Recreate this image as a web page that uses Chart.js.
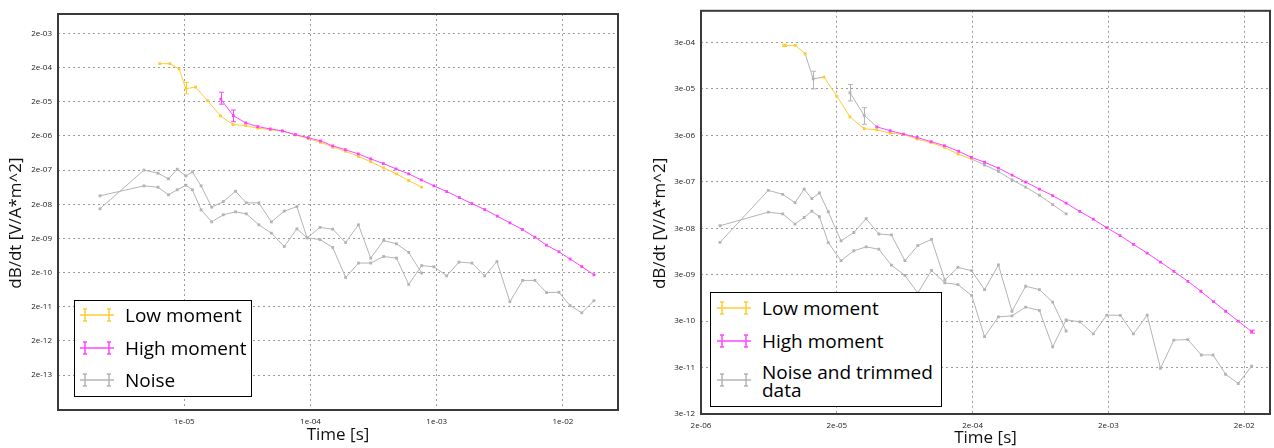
<!DOCTYPE html>
<html>
<head>
<meta charset="utf-8">
<script src="https://cdn.jsdelivr.net/npm/chart.js@4.4.1/dist/chart.umd.min.js"></script>
<style>
  body { margin: 0; background: #fff; width: 1274px; height: 448px; position: relative; overflow: hidden; font-family: "Open Sans", sans-serif; }
  canvas { position: absolute; top: 0; }
  .legend { position: absolute; background: #fff; border: 1.5px solid #000; box-sizing: border-box; }
  .row { position: absolute; left: 0; right: 0; }
  .row svg { position: absolute; }
  .row span { position: absolute; font-size: 19px; line-height: 18px; color: #000; white-space: normal; }
</style>
</head>
<body>
<canvas id="left" width="640" height="448" style="left:0"></canvas>
<canvas id="right" width="634" height="448" style="left:640px"></canvas>
<div id="legendLeft" class="legend" style="left:74px; top:300px; width:178px; height:97px"></div>
<div id="legendRight" class="legend" style="left:710px; top:292px; width:232px; height:115px"></div>
<script>
// colours
const yellow = "#FFCC33";
const magenta = "#FF44FF";
const grey = "#B4B4B4";

// ---------- left panel ----------
const leftXTicks = [1e-5, 1e-4, 1e-3, 1e-2];
const leftXLabels = ["1e-05", "1e-04", "1e-03", "1e-02"];
const leftYTicks = [2e-3, 2e-4, 2e-5, 2e-6, 2e-7, 2e-8, 2e-9, 2e-10, 2e-11, 2e-12, 2e-13];
const leftYLabels = ["2e-03", "2e-04", "2e-05", "2e-06", "2e-07", "2e-08", "2e-09", "2e-10", "2e-11", "2e-12", "2e-13"];

const leftLowT = [6.4e-6, 7.7e-6, 9.1e-6, 1.03e-5, 1.23e-5, 1.53e-5, 1.94e-5, 2.43e-5, 3.07e-5, 3.82e-5, 4.8e-5, 6.0e-5,
  7.6e-5, 9.6e-5, 1.2e-4, 1.5e-4, 1.9e-4, 2.4e-4, 3.0e-4, 3.8e-4, 4.8e-4, 6.0e-4, 7.6e-4];
const leftLowV = [2.6e-4, 2.6e-4, 1.82e-4, 4.8e-5, 5.4e-5, 2.15e-5, 7.7e-6, 4.3e-6, 4.0e-6, 3.36e-6, 3.05e-6, 2.8e-6,
  2.14e-6, 1.67e-6, 1.3e-6, 9.4e-7, 7.1e-7, 5.0e-7, 3.5e-7, 2.32e-7, 1.55e-7, 9.9e-8, 6.3e-8];
const leftLowErrIdx = [3];
const leftLowErrLo = [3.4e-5];
const leftLowErrHi = [7.4e-5];

const leftHighT = [1.95e-5, 2.45e-5, 3.07e-5, 3.82e-5, 4.8e-5, 6.0e-5, 7.6e-5, 9.6e-5, 1.2e-4, 1.5e-4, 1.89e-4, 2.39e-4,
  3.0e-4, 3.78e-4, 4.76e-4, 6.0e-4, 7.55e-4, 9.5e-4, 1.2e-3, 1.51e-3, 1.9e-3, 2.4e-3, 3.02e-3, 3.8e-3, 4.77e-3, 6.0e-3,
  7.4e-3, 9.3e-3, 1.14e-2, 1.41e-2, 1.76e-2];
const leftHighV = [2.37e-5, 7.8e-6, 4.8e-6, 3.74e-6, 3.2e-6, 2.8e-6, 2.18e-6, 1.78e-6, 1.43e-6, 1.02e-6, 7.9e-7, 5.96e-7,
  4.25e-7, 3.1e-7, 2.17e-7, 1.55e-7, 1.03e-7, 6.9e-8, 4.7e-8, 3.14e-8, 2.09e-8, 1.4e-8, 8.97e-9, 5.7e-9, 3.64e-9, 2.18e-9,
  1.27e-9, 8.1e-10, 4.97e-10, 3.0e-10, 1.72e-10];
const leftHighErrIdx = [0, 1];
const leftHighErrLo = [1.7e-5, 5.2e-6];
const leftHighErrHi = [3.8e-5, 1.15e-5];

const leftNoiseT = [2.15e-6, 4.8e-6, 6.2e-6, 7.5e-6, 8.8e-6, 1.03e-5, 1.16e-5, 1.36e-5, 1.65e-5, 2.04e-5, 2.55e-5, 3.1e-5,
  3.9e-5, 4.9e-5, 6.2e-5, 7.8e-5, 9.4e-5, 1.19e-4, 1.5e-4, 1.9e-4, 2.4e-4, 3.0e-4, 3.8e-4, 4.8e-4, 6.0e-4, 7.6e-4,
  9.5e-4, 1.2e-3, 1.5e-3, 1.9e-3, 2.4e-3, 3.0e-3, 3.8e-3, 4.8e-3, 6.0e-3, 7.4e-3, 9.3e-3, 1.14e-2, 1.41e-2, 1.76e-2];
// noise of the low moment (stops with it) and of the high moment
const leftNoiseLowV = [1.47e-8, 2.0e-7, 1.62e-7, 1.11e-7, 2.12e-7, 1.35e-7, 1.77e-7, 6.9e-8, 1.64e-8, 2.4e-8, 4.8e-8, 2.2e-8,
  2.2e-8, 6.1e-9, 1.26e-8, 1.71e-8, 2.08e-9, 4.2e-9, 3.73e-9, 1.52e-9, 5.0e-9, 5.3e-10, 1.74e-9, 1.39e-9, 7.8e-10, 1.93e-10];
const leftNoiseHighV = [3.52e-8, 6.9e-8, 6.3e-8, 3.77e-8, 5.3e-8, 7.2e-8, 5.3e-8, 1.37e-8, 6.1e-9, 9.8e-9, 1.2e-8, 1.05e-8,
  5.0e-9, 2.85e-9, 1.16e-9, 3.8e-9, 2.08e-9, 1.85e-9, 1.09e-9, 1.44e-10, 3.8e-10, 3.8e-10, 5.9e-10, 5.3e-10, 9.0e-11, 3.2e-10,
  2.96e-10, 1.6e-10, 4.05e-10, 3.8e-10, 1.6e-10, 4.2e-10, 2.8e-11, 1.18e-10, 1.18e-10, 5.2e-11, 5.3e-11, 2.15e-11, 1.33e-11, 3.0e-11];

// ---------- right panel ----------
const rightXTicks = [2e-6, 2e-5, 2e-4, 2e-3, 2e-2];
const rightXLabels = ["2e-06", "2e-05", "2e-04", "2e-03", "2e-02"];
const rightYTicks = [3e-4, 3e-5, 3e-6, 3e-7, 3e-8, 3e-9, 3e-10, 3e-11, 3e-12];
const rightYLabels = ["3e-04", "3e-05", "3e-06", "3e-07", "3e-08", "3e-09", "3e-10", "3e-11", "3e-12"];

const rightLowT = [8.2e-6, 9.9e-6, 1.17e-5, 1.34e-5, 1.61e-5, 2.0e-5, 2.5e-5, 3.18e-5, 3.94e-5, 4.94e-5, 6.2e-5, 7.8e-5,
  9.9e-5, 1.24e-4, 1.56e-4, 1.96e-4, 2.45e-4, 3.1e-4, 3.9e-4, 4.92e-4, 6.21e-4, 7.78e-4, 9.77e-4];
const rightLowV = [2.59e-4, 2.59e-4, 1.71e-4, 4.93e-5, 5.36e-5, 2.1e-5, 7.5e-6, 4.15e-6, 3.96e-6, 3.34e-6, 3.14e-6, 2.49e-6,
  2.09e-6, 1.65e-6, 1.19e-6, 9.3e-7, 6.9e-7, 5.0e-7, 3.3e-7, 2.3e-7, 1.54e-7, 9.7e-8, 6.1e-8];
const rightLowTrim = [0, 0, 0, 1, 0, 0, 0, 0, 0, 0, 0, 0, 0, 0, 0, 0, 1, 1, 1, 1, 1, 1, 1];
const rightLowErrIdx = [0, 3];
const rightLowErrLo = [2.45e-4, 3.0e-5];
const rightLowErrHi = [2.75e-4, 7.2e-5];

const rightHighT = [2.5e-5, 3.18e-5, 3.94e-5, 4.94e-5, 6.2e-5, 7.8e-5, 9.9e-5, 1.24e-4, 1.58e-4, 1.96e-4, 2.45e-4, 3.1e-4,
  3.91e-4, 4.92e-4, 6.21e-4, 7.78e-4, 9.77e-4, 1.23e-3, 1.55e-3, 1.94e-3, 2.44e-3, 3.06e-3, 3.86e-3, 4.84e-3, 6.07e-3,
  7.7e-3, 9.6e-3, 1.19e-2, 1.46e-2, 1.81e-2, 2.27e-2];
const rightHighV = [2.48e-5, 8.1e-6, 4.58e-6, 3.76e-6, 3.18e-6, 2.7e-6, 2.19e-6, 1.8e-6, 1.36e-6, 1.01e-6, 7.9e-7, 5.9e-7,
  4.17e-7, 2.96e-7, 2.09e-7, 1.51e-7, 1.04e-7, 6.9e-8, 4.7e-8, 3.08e-8, 2.08e-8, 1.35e-8, 8.7e-9, 5.6e-9, 3.54e-9,
  2.16e-9, 1.32e-9, 7.9e-10, 4.9e-10, 3.0e-10, 1.78e-10];
const rightHighTrim = [1, 1, 0, 0, 0, 0, 0, 0, 0, 0, 0, 0, 0, 0, 0, 0, 0, 0, 0, 0, 0, 0, 0, 0, 0, 0, 0, 0, 0, 0, 0];
const rightHighErrIdx = [0, 1, 30];
const rightHighErrLo = [1.65e-5, 5.2e-6, 1.65e-10];
const rightHighErrHi = [3.72e-5, 1.18e-5, 1.92e-10];

const rightNoiseT = [2.76e-6, 6.26e-6, 8.0e-6, 9.85e-6, 1.15e-5, 1.31e-5, 1.49e-5, 1.73e-5, 2.15e-5, 2.67e-5, 3.29e-5,
  4.08e-5, 5.05e-5, 6.35e-5, 7.9e-5, 9.97e-5, 1.25e-4, 1.56e-4, 1.97e-4, 2.45e-4, 3.1e-4, 3.9e-4, 4.92e-4, 6.21e-4,
  7.78e-4, 9.77e-4, 1.23e-3, 1.55e-3, 1.95e-3, 2.45e-3, 3.06e-3, 3.86e-3, 4.84e-3, 6.07e-3, 7.7e-3, 9.67e-3, 1.18e-2,
  1.46e-2, 1.81e-2, 2.27e-2];
const rightNoiseLowV = [1.49e-8, 1.96e-7, 1.61e-7, 1.07e-7, 2.07e-7, 1.3e-7, 1.72e-7, 6.8e-8, 1.6e-8, 2.43e-8, 4.8e-8,
  2.25e-8, 2.15e-8, 6.0e-9, 1.27e-8, 1.73e-8, 2.3e-9, 4.3e-9, 3.65e-9, 1.43e-9, 4.85e-9, 4.9e-10, 1.69e-9, 1.43e-9,
  7.7e-10, 1.84e-10];
const rightNoiseHighV = [3.39e-8, 6.65e-8, 6.1e-8, 3.69e-8, 5.1e-8, 7.0e-8, 5.3e-8, 1.47e-8, 6.0e-9, 9.8e-9, 1.19e-8,
  1.06e-8, 4.8e-9, 2.9e-9, 1.21e-9, 3.7e-9, 2.0e-9, 1.83e-9, 1.07e-9, 1.39e-10, 3.7e-10, 3.9e-10, 6.0e-10, 5.1e-10,
  8.4e-11, 3.2e-10, 2.9e-10, 1.6e-10, 4.05e-10, 4.0e-10, 1.59e-10, 4.05e-10, 2.9e-11, 1.17e-10, 1.2e-10, 5.6e-11,
  5.6e-11, 2.15e-11, 1.36e-11, 3.2e-11];

const leftLegend = ["Low moment", "High moment", "Noise"];
const rightLegend = ["Low moment", "High moment", "Noise and trimmed data"];
const legendColors = [yellow, magenta, grey];

function pts(t, v) {
  return v.map(function (val, i) { return { x: t[i], y: val }; });
}

function series(t, v, color, opts) {
  opts = opts || {};
  const trim = opts.trim;
  const pointColor = trim ? trim.map(function (f) { return f ? grey : color; }) : color;
  return {
    data: pts(t, v),
    showLine: true,
    borderColor: color,
    backgroundColor: pointColor,
    pointBackgroundColor: pointColor,
    pointBorderColor: pointColor,
    borderWidth: 1,
    pointStyle: "rect",
    pointRadius: 2,
    pointBorderWidth: 0,
    order: opts.order || 0,
    segment: trim ? {
      borderColor: function (ctx) {
        return trim[ctx.p0DataIndex] || trim[ctx.p1DataIndex] ? grey : undefined;
      },
    } : undefined,
    errIdx: opts.errIdx,
    errLo: opts.errLo,
    errHi: opts.errHi,
    errColors: opts.errIdx ? opts.errIdx.map(function (i) { return trim && trim[i] ? grey : color; }) : null,
  };
}

// error bars drawn through the chart scales
const errorBars = {
  id: "errorBars",
  afterDatasetsDraw: function (chart) {
    const ctx = chart.ctx;
    const xs = chart.scales.x;
    const ys = chart.scales.y;
    chart.data.datasets.forEach(function (ds) {
      if (!ds.errIdx) return;
      ctx.save();
      ctx.lineWidth = 1;
      ds.errIdx.forEach(function (i, k) {
        const px = Math.round(xs.getPixelForValue(ds.data[i].x)) + 0.5;
        const y1 = ys.getPixelForValue(ds.errLo[k]);
        const y2 = ys.getPixelForValue(ds.errHi[k]);
        ctx.strokeStyle = ds.errColors[k];
        ctx.beginPath();
        ctx.moveTo(px, y1); ctx.lineTo(px, y2);
        ctx.moveTo(px - 2.5, y1); ctx.lineTo(px + 2.5, y1);
        ctx.moveTo(px - 2.5, y2); ctx.lineTo(px + 2.5, y2);
        ctx.stroke();
      });
      ctx.restore();
    });
  },
};

// dark frame round the plot area
const frame = {
  id: "frame",
  afterDraw: function (chart) {
    const a = chart.chartArea;
    const ctx = chart.ctx;
    ctx.save();
    ctx.strokeStyle = "#3a3a3a";
    ctx.lineWidth = 2;
    ctx.strokeRect(a.left, a.top, a.right - a.left, a.bottom - a.top);
    ctx.restore();
  },
};

function axis(kind, min, max, ticks, labels, title, fit) {
  const horiz = kind === "x";
  return {
    type: "logarithmic",
    position: horiz ? "bottom" : "left",
    min: min,
    max: max,
    bounds: "data",
    afterBuildTicks: function (scale) {
      scale.ticks = ticks.map(function (v) { return { value: v }; });
    },
    afterFit: function (scale) {
      if (horiz) scale.height = fit.size; else scale.width = fit.size;
    },
    ticks: {
      autoSkip: false,
      maxRotation: 0,
      padding: fit.tickPad,
      color: "#222",
      font: { family: "Open Sans", size: 8 },
      callback: function (value, index) { return labels[index]; },
    },
    grid: { color: "#9c9c9c", lineWidth: 1, drawTicks: false },
    border: { display: false, dash: [2, 3] },
    title: {
      display: true,
      text: title,
      color: "#111",
      font: { family: "Open Sans", size: 17, lineHeight: 1 },
      padding: horiz ? { top: 0, bottom: fit.titlePad } : { top: fit.titlePad, bottom: 0 },
    },
  };
}

function makeChart(id, datasets, xs, ys, padding) {
  return new Chart(document.getElementById(id), {
    type: "scatter",
    data: { datasets: datasets },
    options: {
      responsive: false,
      animation: false,
      layout: { padding: padding },
      plugins: { legend: { display: false }, tooltip: { enabled: false } },
      scales: { x: xs, y: ys },
    },
    plugins: [errorBars, frame],
  });
}

makeChart("left", [
  series(leftHighT, leftHighV, magenta, { order: 1, errIdx: leftHighErrIdx, errLo: leftHighErrLo, errHi: leftHighErrHi }),
  series(leftLowT, leftLowV, yellow, { order: 2, errIdx: leftLowErrIdx, errLo: leftLowErrLo, errHi: leftLowErrHi }),
  series(leftNoiseT.slice(0, leftNoiseLowV.length), leftNoiseLowV, grey, { order: 3 }),
  series(leftNoiseT, leftNoiseHighV, grey, { order: 3 }),
],
  axis("x", 1e-6, 2.73e-2, leftXTicks, leftXLabels, "Time [s]", { size: 38, tickPad: 7, titlePad: 4 }),
  axis("y", 1.9e-14, 7.4e-3, leftYTicks, leftYLabels, "dB/dt [V/A*m^2]     ", { size: 58, tickPad: 6, titlePad: 8 }),
  { left: 0, right: 22, top: 14, bottom: 0 });

makeChart("right", [
  series(rightHighT, rightHighV, magenta, { order: 1, trim: rightHighTrim, errIdx: rightHighErrIdx, errLo: rightHighErrLo, errHi: rightHighErrHi }),
  series(rightLowT, rightLowV, yellow, { order: 2, trim: rightLowTrim, errIdx: rightLowErrIdx, errLo: rightLowErrLo, errHi: rightLowErrHi }),
  series(rightNoiseT.slice(0, rightNoiseLowV.length), rightNoiseLowV, grey, { order: 3 }),
  series(rightNoiseT, rightNoiseHighV, grey, { order: 3 }),
],
  axis("x", 2e-6, 3.1e-2, rightXTicks, rightXLabels, "Time [s]", { size: 34, tickPad: 7, titlePad: 1 }),
  axis("y", 3e-12, 1.44e-3, rightYTicks, rightYLabels, "dB/dt [V/A*m^2]     ", { size: 61, tickPad: 6, titlePad: 12 }),
  { left: 0, right: 4, top: 7, bottom: 0 });

// legend boxes: line with error-bar symbol and label
function buildLegend(boxId, labels, rows, symLeft, textLeft) {
  const box = document.getElementById(boxId);
  labels.forEach(function (label, i) {
    const c = legendColors[i];
    const row = document.createElement("div");
    row.className = "row";
    row.style.top = rows[i].y + "px";
    row.innerHTML =
      '<svg width="34" height="14" style="left:' + symLeft + 'px; top:' + (rows[i].sym - 7) + 'px" stroke="' + c + '" stroke-width="1.5" fill="none">' +
      '<line x1="0" y1="7" x2="34" y2="7"/>' +
      '<line x1="5" y1="1" x2="5" y2="13"/><line x1="29" y1="1" x2="29" y2="13"/>' +
      '<line x1="3" y1="1" x2="7" y2="1"/><line x1="3" y1="13" x2="7" y2="13"/>' +
      '<line x1="27" y1="1" x2="31" y2="1"/><line x1="27" y1="13" x2="31" y2="13"/></svg>' +
      '<span style="left:' + textLeft + 'px; top:' + (rows[i].text) + 'px; width:' + rows[i].w + 'px">' + label + '</span>';
    box.appendChild(row);
  });
}

buildLegend("legendLeft", leftLegend, [
  { y: 0, sym: 14, text: 5, w: 130 },
  { y: 33, sym: 14, text: 5, w: 130 },
  { y: 65, sym: 14, text: 5, w: 130 },
], 5, 50);
buildLegend("legendRight", rightLegend, [
  { y: 0, sym: 15, text: 6, w: 175 },
  { y: 33, sym: 15, text: 6, w: 175 },
  { y: 72, sym: 15, text: -2, w: 175 },
], 6, 51);
</script>
</body>
</html>
